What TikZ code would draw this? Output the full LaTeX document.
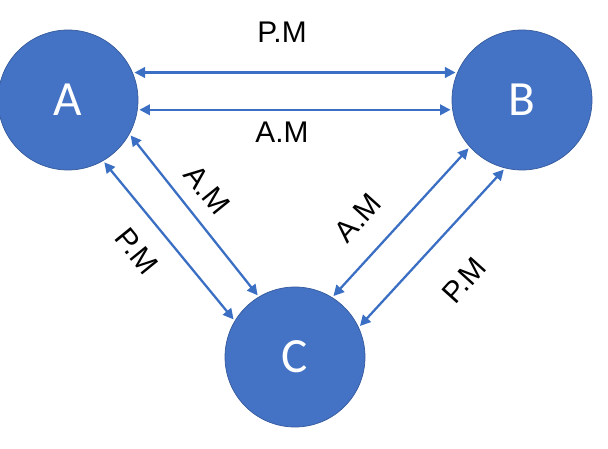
\documentclass[tikz,border=0pt]{standalone}
\usepackage{fontspec}
\setmainfont{Carlito}
\newfontfamily\lblfont{Liberation Sans}
\usetikzlibrary{arrows.meta}
\definecolor{nodeblue}{HTML}{4472C4}
\definecolor{arrowblue}{HTML}{3A6FC4}
\tikzset{
  site/.style={circle, fill=nodeblue, draw=nodeblue!80!black, minimum size=140*0.02cm, inner sep=0pt, text=white, font=\fontsize{28}{28}\selectfont},
  link/.style={arrowblue, line width=1.3pt, shorten >=1pt, shorten <=1pt, {Triangle[length=6pt,width=6pt]}-{Triangle[length=6pt,width=6pt]}},
  tag/.style={font=\lblfont\fontsize{17}{17}\selectfont, inner sep=1pt}
}
\begin{document}
\begin{tikzpicture}[x=0.02cm, y=-0.02cm]
        \useasboundingbox (0,0) rectangle (608,449);
        \node[site] (A) at (68,100) {A};
        \node[site] (B) at (522,100) {B};
        \node[site] (C) at (295,357) {C};

        \draw[link] (A.23) -- (B.157);
        \draw[link] (A.-8) -- (B.188);
        \draw[link] (A.-29) -- (C.121);
        \draw[link] (A.-60) -- (C.149);
        \draw[link] (B.222) -- (C.58);
        \draw[link] (B.256) -- (C.25);

        \node[tag] (pm1) at (282,32) {P.M};
        \node[tag] (am1) at (282,132) {A.M};
        \node[tag, rotate=-51] (am2) at (207,190) {A.M};
        \node[tag, rotate=-51] (pm2) at (137,251) {P.M};
        \node[tag, rotate=48] (am3) at (358,218) {A.M};
        \node[tag, rotate=48] (pm3) at (464,280) {P.M};
\end{tikzpicture}
\end{document}
